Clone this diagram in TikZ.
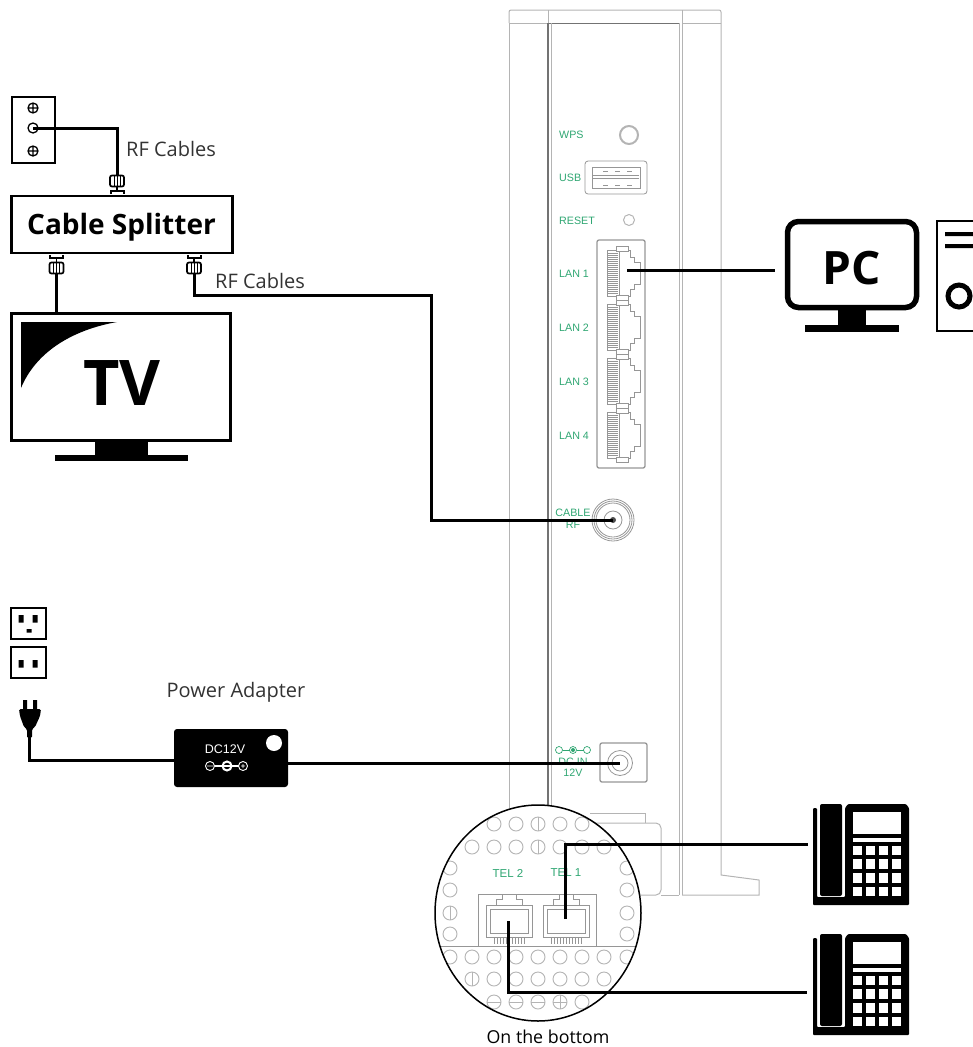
\documentclass[tikz,border=0pt]{standalone}
\usepackage{fontspec}
\setmainfont{Open Sans}
\newfontfamily\panelfont{Liberation Sans}
\usetikzlibrary{shapes.geometric}
\definecolor{panelgreen}{HTML}{2FA672}
\definecolor{bodygray}{HTML}{B4B4B4}
\definecolor{portgray}{HTML}{969696}
\tikzset{
  cable/.style={line width=3pt,black},
  body/.style={draw=bodygray,line width=1pt},
  port/.style={draw=portgray,line width=0.8pt},
  hole/.style={draw=bodygray,line width=0.9pt},
  thickbox/.style={draw,line width=2.4pt},
  caption/.style={font=\fontsize{20}{22}\selectfont,text=black!80,inner sep=0pt},
  panel/.style={font=\panelfont\fontsize{10.7}{12}\selectfont,text=panelgreen,inner sep=0pt},
  fnut/.pic={
    \draw[fill=white,line width=1.7pt,rounded corners=2pt] (-7,-5.5) rectangle (7,5.5);
    \draw[line width=0.7pt] (-3,-5.5) -- (-3,5.5) (0,-5.5) -- (0,5.5) (3,-5.5) -- (3,5.5);
  },
  lanport/.pic={
    \draw[port] (607,250) -- (630,250) -- (630,257) -- (634,257) -- (634,262) -- (640,262) -- (640,284)
      -- (634,284) -- (634,289) -- (630,289) -- (630,296) -- (607,296) -- cycle;
    \draw[port] (619,250) -- (619,296);
    \draw[port,fill=white] (616,246) rectangle (628,251);
    \draw[port,fill=white] (616,295) rectangle (628,300);
    \foreach \y in {253,255,...,293} \draw[port] (608,\y) -- (618,\y);
  },
  telport/.pic={
    \draw[port,fill=white] (-23,-16) rectangle (23,16);
    \draw[port] (-19,-12) rectangle (19,12);
    \draw[port] (-13,-16) -- (-13,-22) -- (-7,-22) -- (-7,-27) -- (7,-27) -- (7,-22) -- (13,-22) -- (13,-16);
    \foreach \x in {-15,-12,...,15} \draw[port] (\x,16) -- (\x,23);
  },
  phone/.pic={
    \fill[rounded corners=1pt] (813,808) -- (817,808) -- (817,897) -- (845,897) -- (845,808) -- (848,804)
      -- (906,804) -- (909,808) -- (909,905) -- (813,905) -- cycle;
    \fill[rounded corners=2pt] (820,804) rectangle (842,896);
    \fill[white] (852.5,812) rectangle (901,833.5);
    \fill[white] (852.5,838) rectangle (901,842);
    \foreach \x in {852.7,865.5,878.5,891.5}
      \foreach \y in {845.7,859.3,873,886.7}
        \fill[white] (\x,\y) rectangle ++(9.5,9.5);
  }
}

\begin{document}
\begin{tikzpicture}[x=1pt,y=-1pt]
  \useasboundingbox (0,0) rectangle (973,1047);

  % Modem body
  \draw[body,rounded corners=2pt] (509,23) -- (509,10) -- (721,10) -- (721,23);
  \draw[body] (509,23) -- (548,23) (682,23) -- (721,23) (548,10) -- (548,23) (682,10) -- (682,23);
  \draw[line width=1pt,black!55] (549,23) -- (680,23);
  \draw[body] (509,23) -- (509,815);
  \draw[line width=1.2pt,black!55] (548,23) -- (548,815);
  \draw[body] (551,23) -- (551,815);
  \draw[body] (679,23) -- (679,895) (682,23) -- (682,895);
  \draw[body] (721,23) -- (721,875) -- (759,880) -- (759,895) -- (682,895);
  \draw[body,rounded corners=5pt] (590,823) -- (661,823) -- (661,895) -- (590,895);
  \draw[body] (590,813) -- (645,813) -- (645,823) (661,895) -- (679,895);

  % Panel, top to bottom
  \node[panel,anchor=west] (wpslabel) at (559,135) {WPS};
  \node[panel,anchor=west] (usblabel) at (559,178) {USB};
  \node[panel,anchor=west] (resetlabel) at (559,221) {RESET};
  \draw[bodygray,line width=2pt,fill=white] (629,135) circle[radius=9];
  \draw[body] (629,220) circle[radius=5.5];
  \draw[port,rounded corners=3pt] (585,161) rectangle (647,194);
  \draw[port] (592,167) -- (640,167) -- (640,188) -- (592,188) -- cycle;
  \draw[port] (593,175) -- (639,175) (593,178) -- (639,178);
  \foreach \x in {603,615,627} \draw[port] (\x,171) -- ++(5,0) (\x,185) -- ++(5,0);
  \draw[port,line width=1.3pt,rounded corners=2pt] (597,240) rectangle (645,468);
  \foreach \n/\dy in {1/0,2/54,3/108,4/162} {
    \pic at (0,\dy) {lanport};
    \node[panel,anchor=west] (lan\n label) at (559,274+\dy) {LAN \n};
  }
  \foreach \r in {21,19,17,9} \draw[port] (613,520) circle[radius=\r];
  \fill[black!70] (613,520) circle[radius=3];
  \node[panel,align=center] (rflabel) at (573,519) {CABLE\\RF};

  % Power socket on the panel
  \draw[panelgreen,line width=0.7pt] (559,750) circle[radius=3.5] (573,750) circle[radius=3.5] (587,750) circle[radius=3.5];
  \draw[panelgreen,line width=0.7pt] (562.5,750) -- (569.5,750) (576.5,750) -- (583.5,750);
  \fill[panelgreen] (573,750) circle[radius=2];
  \node[panel] (dclabel) at (573,762) {DC IN};
  \node[panel] (vlabel) at (573,773) {12V};
  \draw[port,line width=1.3pt,rounded corners=2pt] (600,743) rectangle (647,782);
  \draw[port] (620,763) circle[radius=12.5] (620,763) circle[radius=8];

  % Bottom view
  \path[fill=white] (538,913) ellipse[x radius=103,y radius=108];
  \begin{scope}
    \clip (538,913) ellipse[x radius=103,y radius=108];
    \foreach \x in {494,516,538,560,582} \draw[hole] (\x,824) circle[radius=7];
    \foreach \x in {472,494,516,538,560,582,604} \draw[hole] (\x,847) circle[radius=7];
    \foreach \y in {868,890,913,934} \draw[hole] (450,\y) circle[radius=7] (627,\y) circle[radius=7];
    \foreach \x in {450,472,494,516,538,560,582,604,627} \draw[hole] (\x,957) circle[radius=7];
    \foreach \x in {472,494,516,538,560,582,604} \draw[hole] (\x,979) circle[radius=7];
    \foreach \x in {494,516,538,560,582} \draw[hole] (\x,1002) circle[radius=7];
    \draw[hole] (538,817) -- (538,831) (538,840) -- (538,854) (472,972) -- (472,986) (450,906) -- (450,920)
      (487,1002) -- (501,1002) (509,1002) -- (523,1002) (531,1002) -- (545,1002) (560,995) -- (560,1009) (553,1002) -- (567,1002);
    \draw[port] (435,946) -- (641,946);
  \end{scope}
  \draw[port] (478,946) -- (478,894) -- (596,894) -- (596,946);
  \pic at (509,921) {telport};
  \pic at (566,921) {telport};
  \node[panel,font=\panelfont\fontsize{11.5}{13}\selectfont] (tel2label) at (508,873) {TEL 2};
  \node[panel,font=\panelfont\fontsize{11.5}{13}\selectfont] (tel1label) at (566,873) {TEL 1};
  \node[draw,ellipse,line width=1.5pt,minimum width=206pt,minimum height=216pt,inner sep=0pt] (bottomview) at (538,913) {};
  \node[caption,font=\fontsize{17.8}{20}\selectfont,text=black] (bottomlabel) at (548,1037) {On the bottom};

  % Wall plate
  \node[thickbox,minimum width=43pt,minimum height=66pt,inner sep=0pt] (wall) at (33.5,130) {};
  \foreach \y in {108,151} {
    \draw[line width=1.3pt] (33,\y) circle[radius=5] (28,\y) -- (38,\y) (33,\y-5) -- (33,\y+5);
  }
  \draw[line width=1.3pt] (33,128) circle[radius=5];
  \coordinate (wallrf) at (33,128);

  % Splitter
  \node[thickbox,minimum width=221pt,minimum height=57pt,inner sep=0pt] (splitter) at (122,224.5) {};
  \node[inner sep=0pt,font=\fontsize{28}{30}\bfseries\selectfont] (splitterlabel) at (121.5,227) {Cable Splitter};
  \coordinate (splitin) at (117,176);
  \coordinate (splitleft) at (56.5,273);
  \coordinate (splitright) at (194,273);
  \draw[line width=2pt] (111,194) -- (111,191) -- (124,191) -- (124,194);
  \pic at (117,181) {fnut};
  \draw[line width=2pt] (50,255) -- (50,258) -- (63,258) -- (63,255);
  \pic at (56.5,268) {fnut};
  \draw[line width=2pt] (188,255) -- (188,258) -- (201,258) -- (201,255);
  \pic at (194,268) {fnut};
  \draw[line width=1.4pt] (117,186) -- (117,191) (56.5,258) -- (56.5,263) (194,258) -- (194,263);
  \node[caption,anchor=west] (rfcablesa) at (126,149) {RF Cables};
  \node[caption,anchor=west] (rfcablesb) at (215,281) {RF Cables};

  % TV
  \node[thickbox,minimum width=219pt,minimum height=127pt,inner sep=0pt] (tv) at (121,377) {};
  \node[inner sep=0pt,font=\fontsize{63}{66}\bfseries\selectfont] (tvlabel) at (122,383) {TV};
  \fill (21,322) -- (117,322) .. controls (72,330) and (36,352) .. (21,388) -- cycle;
  \fill (95,441) rectangle (148,456);
  \fill (55,455) rectangle (188,461);

  % Outlets and plug
  \node[thickbox,line width=1.7pt,minimum width=35pt,minimum height=31pt,inner sep=0pt] (outleta) at (28.5,623.5) {};
  \node[thickbox,line width=1.7pt,minimum width=35pt,minimum height=31pt,inner sep=0pt] (outletb) at (28.5,662.5) {};
  \fill (18.5,615) rectangle ++(5,7.5) (32.5,615) rectangle ++(5,7.5) (26.5,629) rectangle ++(5,3.5);
  \fill (18.5,660) rectangle ++(5,7.5) (32.5,660) rectangle ++(5,7.5);
  \fill (23,700) rectangle (27,710) (33,700) rectangle (37,710);
  \fill[rounded corners=1.5pt] (19,709) -- (41,709) -- (40,716) -- (35,727) -- (32,729) -- (32,738) -- (27,738) -- (27,729) -- (24,727) -- (20,716) -- cycle;
  \coordinate (plug) at (29.5,736);

  % Adapter
  \node[caption] (adapterlabel) at (236,692) {Power Adapter};
  \node[fill=black,rounded corners=3pt,minimum width=114pt,minimum height=58pt,inner sep=0pt] (adapter) at (231,758) {};
  \fill[white] (274,743) circle[radius=8];
  \node[inner sep=0pt,text=white,font=\panelfont\fontsize{12.5}{14}\selectfont] (adapterdc) at (225,749) {DC12V};
  \draw[white,line width=0.9pt] (210,766) circle[radius=4.5] (243,766) circle[radius=4.5] (207,766) -- (213,766) (241,766) -- (245,766) (243,764) -- (243,768);
  \draw[white,line width=2pt] (227,766) circle[radius=4.5];
  \draw[white,line width=1.2pt] (214.5,766) -- (238.5,766);

  % PC
  \node[draw,line width=5.5pt,rounded corners=11pt,minimum width=129pt,minimum height=86pt,inner sep=0pt] (pc) at (852,264.5) {};
  \node[inner sep=0pt,font=\fontsize{46}{48}\bfseries\selectfont] (pclabel) at (852,268) {PC};
  \fill (838,310) rectangle (866,326);
  \fill (805,325) rectangle (899,332);
  \draw[line width=2.4pt] (973,221) -- (937,221) -- (937,331) -- (973,331);
  \fill (945,232) rectangle (973,236) (945,244) rectangle (973,248);
  \draw[line width=5pt] (959,296) circle[radius=11];

  % Phones
  \pic at (0,0) {phone};
  \pic at (0,130) {phone};

  % Cable ends at the ports
  \coordinate (lan1) at (627,270);
  \coordinate (pcin) at (775,270);
  \coordinate (rfport) at (613,520);
  \coordinate (rfbend) at (431,295);
  \coordinate (dcjack) at (620,763);
  \coordinate (tel1) at (565,919);
  \coordinate (tel2) at (508,921);
  \coordinate (phonea) at (808,844);
  \coordinate (phoneb) at (807,992);
  \coordinate (tvin) at (56.5,313);

  % Cables
  \draw[cable] (wallrf) -| (splitin);
  \draw[cable] (splitleft) -- (tvin);
  \draw[cable] (splitright) |- (rfbend) |- (rfport);
  \draw[cable] (lan1) -- (pcin);
  \draw[cable] (plug) |- (adapter.west |- 0,760);
  \draw[cable] (adapter.east |- dcjack) -- (dcjack);
  \draw[cable] (tel1) |- (phonea);
  \draw[cable] (tel2) |- (phoneb);
\end{tikzpicture}
\end{document}
